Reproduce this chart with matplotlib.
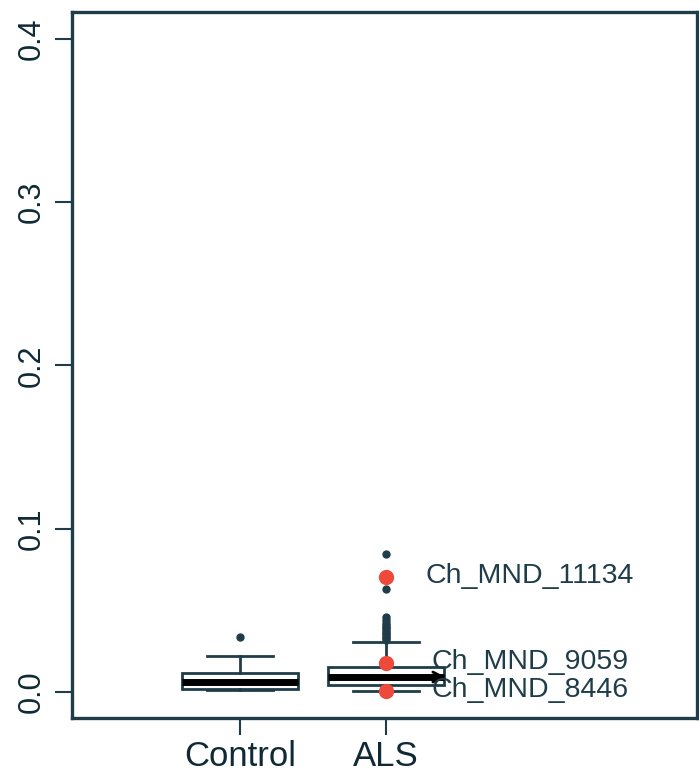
import matplotlib
matplotlib.use("Agg")
import matplotlib.pyplot as plt

groups = ["Control", "ALS"]
box_q1 = [0.0018, 0.0045]
box_med = [0.0060, 0.0092]
box_q3 = [0.0116, 0.0153]
whisk_lo = [0.0010, 0.0006]
whisk_hi = [0.0220, 0.0306]
outliers = [
    [0.0337],
    [0.0320, 0.0330, 0.0340, 0.0350, 0.0360, 0.0370, 0.0380, 0.0390,
     0.0400, 0.0410, 0.0420, 0.0440, 0.0460, 0.0631, 0.0845],
]
highlight_names = ["Ch_MND_11134", "Ch_MND_9059", "Ch_MND_8446"]
highlight_vals = [0.0704, 0.0178, 0.0006]
label_y = [0.0710, 0.0185, 0.0012]
yticks = [0.0, 0.1, 0.2, 0.3, 0.4]

dark = "#1f3d49"

fig = plt.figure(figsize=(6.99, 7.76), dpi=100)
ax = fig.add_axes([0.103, 0.0747, 0.894, 0.9098])

stats = []
for i, g in enumerate(groups):
    stats.append(dict(label=g, q1=box_q1[i], med=box_med[i], q3=box_q3[i],
                      whislo=whisk_lo[i], whishi=whisk_hi[i], fliers=outliers[i]))

ax.bxp(stats, positions=[1, 2], widths=0.8, patch_artist=True,
       boxprops=dict(facecolor="white", edgecolor=dark, linewidth=2),
       medianprops=dict(color="black", linewidth=5),
       whiskerprops=dict(color=dark, linewidth=2, linestyle="-"),
       capprops=dict(color=dark, linewidth=2),
       capwidths=0.45,
       flierprops=dict(marker="o", markersize=5, markerfacecolor=dark,
                       markeredgecolor=dark, linestyle="none"))

ax.plot([2] * len(highlight_vals), highlight_vals, "o", color="#ee4a3c",
        markersize=10, zorder=5)

ax.annotate("", xy=(2.43, box_med[1]), xytext=(2.0, box_med[1]),
            arrowprops=dict(arrowstyle="->", color="black", lw=2,
                            mutation_scale=18), zorder=6)

label_x = [2.27, 2.315, 2.315]
for name, lx, ly in zip(highlight_names, label_x, label_y):
    ax.text(lx, ly, name, fontsize=20.5, family="Liberation Sans",
            color=dark, va="center", ha="left", zorder=7)

ax.set_xlim(-0.151, 4.13)
ax.set_ylim(-0.0159, 0.4164)
ax.set_xticks([1, 2])
ax.set_xticklabels(groups, fontsize=25, family="Liberation Sans", color="#102a35")
ax.set_yticks(yticks)
ax.set_yticklabels([f"{v:.1f}" for v in yticks], fontsize=22,
                   family="Liberation Sans", color="#102a35",
                   rotation=90, va="center")
ax.tick_params(axis="both", length=12, width=1.5, color=dark)
ax.tick_params(axis="y", pad=6)
ax.tick_params(axis="x", pad=4)
for s in ax.spines.values():
    s.set_color(dark)
    s.set_linewidth(2.4)

fig.savefig("out.png", dpi=100)
